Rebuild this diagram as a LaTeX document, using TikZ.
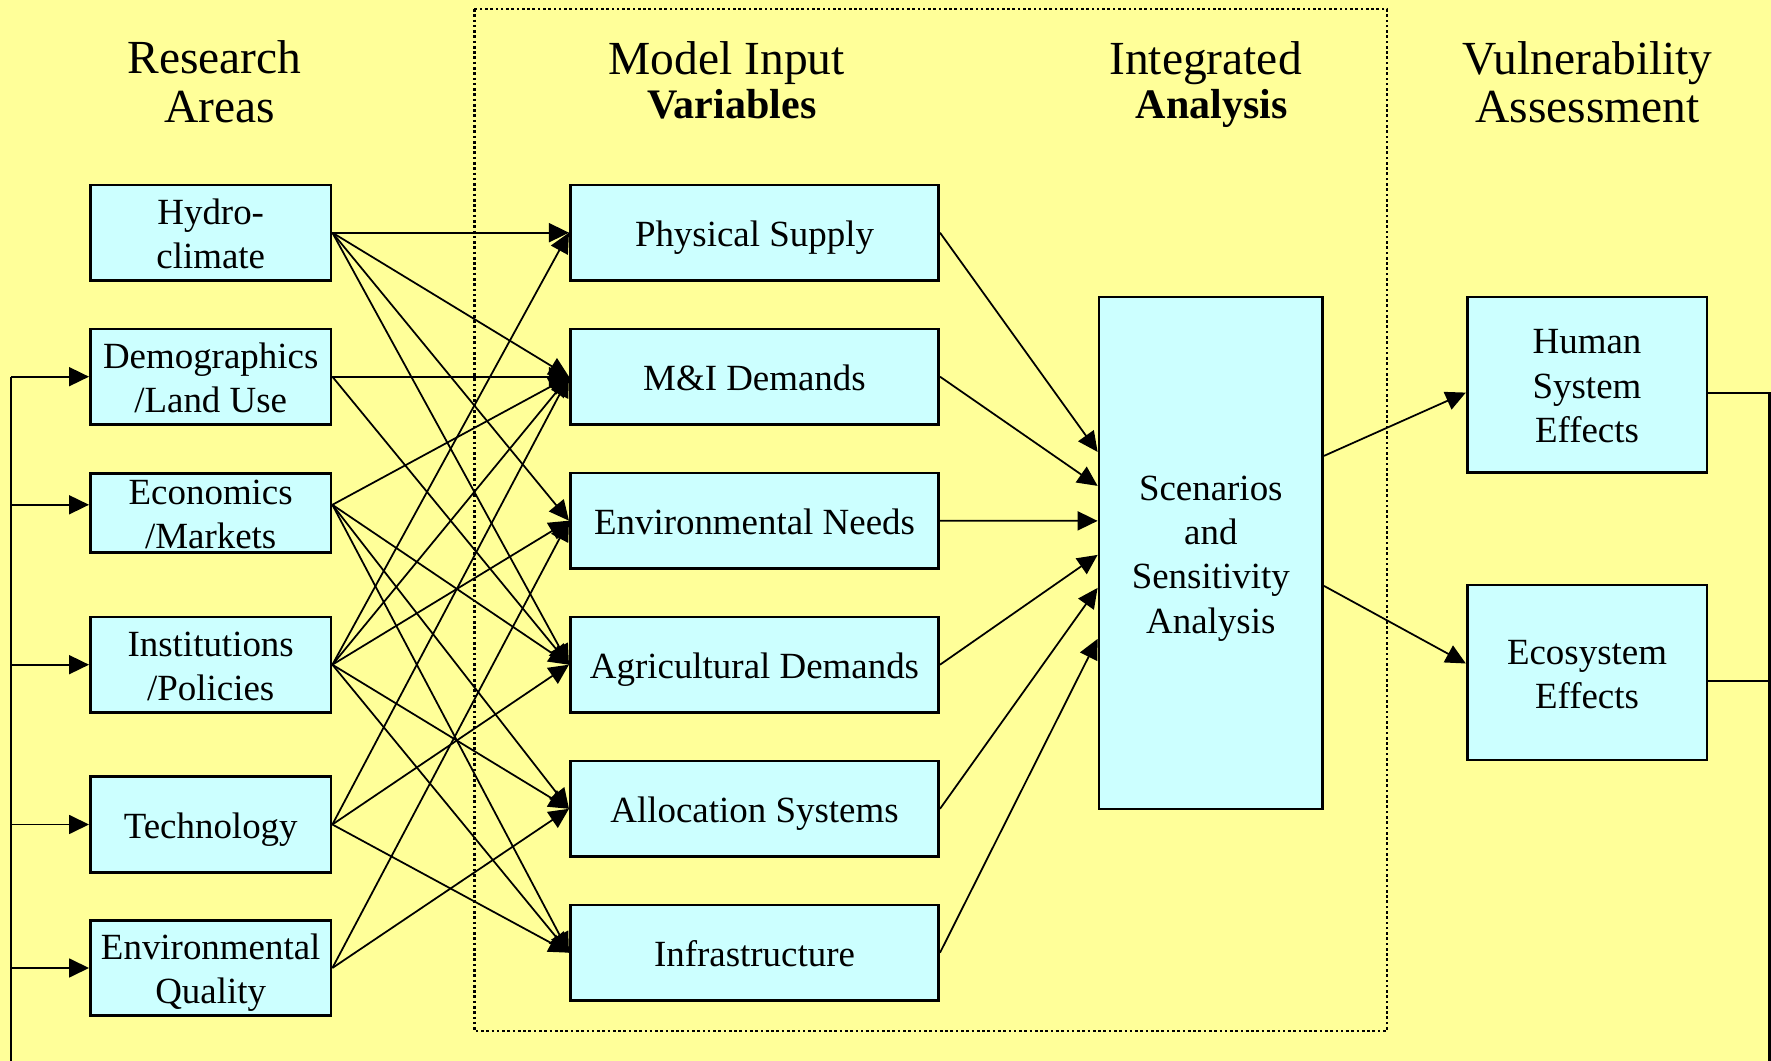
\documentclass[tikz,border=0pt]{standalone}
\usepackage{fontspec}
\setmainfont{Liberation Serif}
\usetikzlibrary{arrows.meta,calc}
\definecolor{bgyellow}{HTML}{FFFF99}
\definecolor{boxcyan}{HTML}{CCFFFF}
\newcommand{\bxtop}{\rule{0pt}{0.96em}}
\newcommand{\bxbot}{\rule[-0.22em]{0pt}{0pt}}
\tikzset{
  anybox/.style={draw,line width=0.75pt,fill=boxcyan,inner xsep=2pt,inner ysep=0pt,
    align=center,font=\fontsize{10.5}{12.6}\selectfont},
  areabox/.style={anybox,minimum width=2.406cm,minimum height=0.955cm},
  varbox/.style={anybox,minimum width=3.682cm,minimum height=0.955cm},
  effbox/.style={anybox,minimum width=2.395cm,minimum height=1.751cm},
  ttl/.style={anchor=base,inner sep=0pt,font=\fontsize{13.5}{16}\selectfont},
  ttlb/.style={anchor=base,inner sep=0pt,font=\fontsize{11.95}{14}\selectfont\bfseries},
  arr/.style={-{Triangle[length=0.2cm,width=0.19cm]},line width=0.5pt},
  fb/.style={line width=0.6pt},
}
\begin{document}
\begin{tikzpicture}[x=0.01cm,y=-0.01cm]
    \useasboundingbox (0,0) rectangle (1771,1061);
    \fill[bgyellow] (0,0) rectangle (1771,1061);
    \draw[line width=0.75pt,dash pattern=on 0.75pt off 0.75pt] (474.4,9) rectangle (1387,1031);

    \node[ttl] (tres1) at (214.4,74) {Research};
    \node[ttl] (tres2) at (219.9,123) {Areas};
    \node[ttl] (tmod1) at (726.8,75) {Model Input};
    \node[ttlb] (tmod2) at (731.9,119) {Variables};
    \node[ttl] (tint1) at (1205.5,75) {Integrated};
    \node[ttlb] (tint2) at (1211.7,119) {Analysis};
    \node[ttl] (tvul1) at (1587.5,75) {Vulnerability};
    \node[ttl] (tvul2) at (1587.5,123) {Assessment};

    \node[areabox] (hydro) at (210.7,232.7) {\bxtop Hydro-\\climate\bxbot};
    \node[areabox] (dem) at (210.7,376.7) {\bxtop Demographics\\/Land Use\bxbot};
    \node[areabox,minimum height=0.79cm,inner ysep=-0.06cm] (econ) at (210.7,512.8)
        {\bxtop Economics\\/Markets\bxbot};
    \node[areabox] (inst) at (210.7,664.7) {\bxtop Institutions\\/Policies\bxbot};
    \node[areabox] (tech) at (210.7,824.5) {\bxtop Technology\bxbot};
    \node[areabox] (envq) at (210.7,968) {\bxtop Environmental\\Quality\bxbot};

    \node[varbox] (phys) at (754.5,232.7) {\bxtop Physical Supply\bxbot};
    \node[varbox] (mi) at (754.5,376.7) {\bxtop M\&I Demands\bxbot};
    \node[varbox] (envn) at (754.5,520.7) {\bxtop Environmental Needs\bxbot};
    \node[varbox] (agri) at (754.5,664.7) {\bxtop Agricultural Demands\bxbot};
    \node[varbox] (alloc) at (754.5,808.8) {\bxtop Allocation Systems\bxbot};
    \node[varbox] (infra) at (754.5,952.7) {\bxtop Infrastructure\bxbot};

    \node[anybox,minimum width=2.236cm,minimum height=5.117cm] (sen) at (1210.8,552.9)
        {\bxtop Scenarios\\and\\Sensitivity\\Analysis\bxbot};
    \node[effbox] (hse) at (1587,384.6) {\bxtop Human\\System\\Effects\bxbot};
    \node[effbox] (eco) at (1587,672.5) {\bxtop Ecosystem\\Effects\bxbot};

    \coordinate (econr) at ($(econ.east)+(0,-8)$);
    \coordinate (econl) at ($(econ.west)+(0,-8)$);
    \coordinate (hser) at ($(hse.east)+(0,8.4)$);
    \coordinate (ecor) at ($(eco.east)+(0,8.5)$);
    \coordinate (fbl) at (11.3,1061);
    \coordinate (fbr) at (1769.5,1061);

    \foreach \a/\b in {hydro/phys,hydro/mi,hydro/envn,hydro/agri,dem/mi,dem/agri,
        inst/phys,inst/mi,inst/envn,inst/alloc,inst/infra,tech/mi,tech/agri,tech/infra,
        envq/envn,envq/alloc}
        \draw[arr] (\a.east) -- (\b.west);
    \foreach \b in {mi,agri,alloc,infra}
        \draw[arr] (econr) -- (\b.west);

    \foreach \a/\d in {phys/-101,mi/-67,envn/-32,agri/2,alloc/35,infra/86}
        \draw[arr] (\a.east) -- ($(sen.west)+(0,\d)$);
    \draw[arr] ($(sen.east)+(0,-97)$) -- ($(hse.west)+(0,8)$);
    \draw[arr] ($(sen.east)+(0,33)$) -- ($(eco.west)+(0,-9)$);

    \draw[fb] (fbl) -- (fbl |- dem.west);
    \foreach \n in {dem,inst,tech,envq}
        \draw[fb,arr] (fbl |- \n.west) -- (\n.west);
    \draw[fb,arr] (fbl |- econl) -- (econl);
    \draw[fb] (hser) -| (fbr);
    \draw[fb] (ecor) -- (ecor -| fbr);
\end{tikzpicture}
\end{document}
